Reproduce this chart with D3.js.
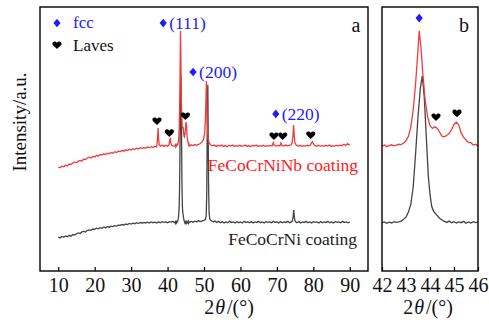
<!DOCTYPE html>
<html>
<head>
<meta charset="utf-8">
<script src="https://cdn.jsdelivr.net/npm/d3@7"></script>
<style>
  body { margin: 0; background: #fff; }
  svg text { font-family: "Liberation Serif", "Times New Roman", serif !important; }
</style>
</head>
<body>
<div id="chart"></div>
<script>
// FeCoCrNiNb coating pattern, [2theta, intensity a.u.]
var nbPattern = [
  [10,39.4],[10.5,39.1],[11,39.7],[11.5,39.5],[12,40.1],[12.5,39.8],[13,40.5],[13.5,40.3],[14,40.9],[14.5,41.3],
  [15,41.0],[15.5,41.6],[16,41.9],[16.5,41.6],[17,42.4],[17.5,42.2],[18,42.8],[18.5,43.1],[19,42.8],[19.5,43.4],
  [20,43.2],[20.5,43.8],[21,43.5],[21.5,44.1],[22,43.9],[22.5,44.4],[23,44.1],[23.5,44.6],[24,44.4],[24.5,44.9],
  [25,44.6],[25.5,45.2],[26,44.9],[26.5,45.4],[27,45.2],[27.5,45.7],[28,45.4],[28.5,45.9],[29,45.6],[29.5,46.1],
  [30,45.8],[30.5,46.3],[31,46.0],[31.5,46.5],[32,46.2],[32.5,46.7],[33,46.4],[33.5,46.8],[34,46.5],[34.5,47.0],
  [35,46.7],[35.5,47.1],[36,46.8],[36.5,47.2],[36.9,47.0],[37.1,47.7],[37.25,50.5],[37.4,54.2],[37.55,50.0],[37.7,47.8],
  [38,47.3],[38.5,47.7],[39,47.2],[39.5,47.6],[40,47.3],[40.4,47.8],[40.6,49.5],[40.75,50.4],[40.9,48.6],[41.1,47.6],
  [41.5,47.4],[42,47.3],[42.1,47.7],[42.2,47.1],[42.3,47.5],[42.4,47.8],[42.5,47.4],[42.6,47.7],[42.7,48.0],[42.8,47.9],
  [42.9,48.5],[43,49.3],[43.1,51.0],[43.2,54.5],[43.3,61.0],[43.4,71.0],[43.5,84.0],[43.55,91.0],[43.62,85.0],[43.7,75.0],
  [43.8,64.5],[43.9,58.5],[44,55.0],[44.1,54.0],[44.2,54.6],[44.3,54.1],[44.4,52.6],[44.5,51.1],[44.6,50.8],[44.7,51.4],
  [44.8,52.1],[44.9,53.6],[45,55.5],[45.1,56.4],[45.2,55.3],[45.3,52.2],[45.4,50.6],[45.5,49.6],[45.6,48.7],[45.7,48.6],
  [45.8,47.7],[45.9,48.0],[46,47.3],[46.5,47.8],[47,47.5],[47.5,47.9],[48,47.6],[48.5,48.0],[49,48.3],[49.5,48.9],
  [49.9,50.0],[50.2,52.5],[50.4,58.0],[50.55,66.0],[50.65,72.0],[50.75,65.0],[50.9,56.0],[51.1,50.5],[51.4,48.6],[51.8,47.8],
  [52.3,47.4],[52.8,47.7],[53.3,47.2],[53.8,47.6],[54.3,47.3],[54.8,47.7],[55.3,47.2],[55.8,47.5],[56.3,47.1],[56.8,47.6],
  [57.3,47.3],[57.8,47.7],[58.3,47.2],[58.8,47.5],[59.3,47.3],[59.8,47.6],[60.3,47.2],[60.8,47.4],[61.3,47.7],[61.8,47.2],
  [62.3,47.5],[62.8,47.1],[63.3,47.6],[63.8,47.3],[64.3,47.7],[64.8,47.2],[65.3,47.5],[65.8,47.3],[66.3,47.6],[66.8,47.2],
  [67.3,47.5],[67.8,47.3],[68.3,47.6],[68.7,47.4],[69,48.6],[69.3,47.6],[69.8,47.3],[70.3,47.6],[70.8,47.4],[71.1,48.5],
  [71.4,47.5],[71.9,47.3],[72.4,47.7],[72.9,47.4],[73.4,47.6],[73.9,47.8],[74.2,48.6],[74.4,51.0],[74.58,55.3],[74.75,51.5],
  [74.95,48.6],[75.3,47.7],[75.8,47.3],[76.3,47.6],[76.8,47.2],[77.3,47.5],[77.8,47.3],[78.3,47.6],[78.8,47.4],[79.2,47.7],
  [79.5,48.6],[79.75,49.0],[80,48.2],[80.4,47.5],[80.9,47.2],[81.4,47.6],[81.9,47.3],[82.4,47.5],[82.9,47.2],[83.4,47.6],
  [83.9,47.3],[84.4,47.7],[84.9,47.2],[85.4,47.5],[85.9,47.3],[86.4,47.6],[86.9,47.4],[87.4,47.7],[87.9,47.5],[88.4,48.0],
  [88.9,47.6],[89.4,48.2],[89.7,47.8],[90,48.1]
];

// FeCoCrNi coating pattern
var niPattern = [
  [10,12.9],[10.5,12.5],[11,13.1],[11.5,12.8],[12,13.3],[12.5,13.0],[13,13.5],[13.5,13.2],[14,13.8],[14.5,13.6],
  [15,14.1],[15.5,14.4],[16,14.2],[16.5,14.8],[17,15.0],[17.5,14.8],[18,15.4],[18.5,15.6],[19,15.4],[19.5,15.9],
  [20,15.8],[20.5,16.2],[21,16.0],[21.5,16.4],[22,16.2],[22.5,16.6],[23,16.4],[23.5,16.8],[24,16.6],[24.5,17.0],
  [25,16.8],[25.5,17.2],[26,17.0],[26.5,17.4],[27,17.3],[27.5,17.6],[28,17.4],[28.5,17.8],[29,17.6],[29.5,18.0],
  [30,17.8],[30.5,18.1],[31,17.9],[31.5,18.3],[32,18.0],[32.5,18.4],[33,18.1],[33.5,18.4],[34,18.2],[34.5,18.5],
  [35,18.2],[35.5,18.6],[36,18.3],[36.5,18.5],[37,18.2],[37.5,18.6],[38,18.3],[38.5,18.7],[39,18.4],[39.5,18.6],
  [40,18.3],[40.5,18.7],[41,18.5],[41.5,18.8],[42,18.3],[42.1,18.6],[42.2,18.1],[42.3,18.5],[42.4,18.2],[42.5,18.7],
  [42.6,18.4],[42.7,18.6],[42.8,18.9],[42.9,19.6],[43,20.4],[43.1,22.3],[43.2,25.2],[43.3,31.8],[43.4,44.5],[43.5,58.5],
  [43.6,69.5],[43.68,73.9],[43.76,66.0],[43.85,50.0],[43.93,36.0],[44,29.0],[44.07,24.5],[44.15,22.6],[44.28,21.2],[44.4,20.0],
  [44.5,19.3],[44.6,18.8],[44.7,18.4],[44.8,18.9],[44.9,18.3],[45,18.7],[45.1,18.2],[45.2,18.6],[45.3,18.3],[45.4,18.8],
  [45.5,18.1],[45.6,18.6],[45.7,18.2],[45.8,18.7],[45.9,18.3],[46,18.5],[46.5,18.8],[47,18.5],[47.5,18.9],[48,18.6],
  [48.5,19.0],[49,18.7],[49.5,19.0],[50,19.2],[50.4,19.6],[50.6,21.0],[50.75,29.0],[50.85,46.0],[50.95,65.0],[51.05,70.5],
  [51.15,52.0],[51.25,33.0],[51.4,22.0],[51.6,19.6],[52,19.0],[52.5,18.6],[53,18.9],[53.5,18.4],[54,18.8],[54.5,18.3],
  [55,18.7],[55.5,18.2],[56,18.6],[56.5,18.3],[57,18.8],[57.5,18.4],[58,18.6],[58.5,18.2],[59,18.7],[59.5,18.3],
  [60,18.6],[60.5,18.2],[61,18.8],[61.5,18.4],[62,18.6],[62.5,18.3],[63,18.7],[63.5,18.2],[64,18.6],[64.5,18.4],
  [65,18.8],[65.5,18.3],[66,18.6],[66.5,18.2],[67,18.7],[67.5,18.4],[68,18.6],[68.5,18.3],[69,18.8],[69.5,18.4],
  [70,18.6],[70.5,18.2],[71,18.7],[71.5,18.3],[72,18.6],[72.5,18.4],[73,18.8],[73.5,18.3],[74,18.6],[74.2,18.8],
  [74.45,20.5],[74.62,23.1],[74.8,20.2],[75,18.8],[75.5,18.3],[76,18.7],[76.5,18.2],[77,18.6],[77.5,18.4],[78,18.8],
  [78.5,18.3],[79,18.6],[79.5,18.2],[80,18.7],[80.5,18.4],[81,18.6],[81.5,18.2],[82,18.7],[82.5,18.3],[83,18.6],
  [83.5,18.4],[84,18.8],[84.5,18.3],[85,18.6],[85.5,18.2],[86,18.7],[86.5,18.4],[87,18.6],[87.5,18.3],[88,18.8],
  [88.5,18.4],[89,18.6],[89.5,18.3],[90,18.5]
];

var ticksA = [10, 20, 30, 40, 50, 60, 70, 80, 90];
var ticksB = [42, 43, 44, 45, 46];

// peak markers [2theta, intensity]
var fccMarksA = [[38.8, 93.9, "(111)"], [47.0, 75.4, "(200)"], [69.7, 59.5, "(220)"]];
var lavesMarksA = [[37.1, 56.8], [40.5, 52.3], [44.9, 58.7], [69.2, 51.1], [71.6, 51.1], [79.3, 51.5]];
var fccMarksB = [[43.55, 95.8]];
var lavesMarksB = [[44.25, 58.3], [45.125, 59.8]];

var width = 489, height = 322;
var redCol = "#f03c3c", greyCol = "#444444", blueCol = "#1c1cff";

var svg = d3.select("#chart").append("svg")
  .attr("width", width).attr("height", height);

var y = d3.scaleLinear().domain([0, 100]).range([271, 7]);
var xa = d3.scaleLinear().domain([5, 95]).range([40, 368]);
var xb = d3.scaleLinear().domain([42, 46]).range([382, 478]);

var heart = "M0,4 C-1,2.6 -4.6,0.6 -4.6,-1.5 C-4.6,-3.6 -1.8,-4.6 0,-2.2 C1.8,-4.6 4.6,-3.6 4.6,-1.5 C4.6,0.6 1,2.6 0,4 Z";
var diamond = "M0,-4.3 L3.6,0 L0,4.3 L-3.6,0 Z";

svg.append("clipPath").attr("id", "clipB")
  .append("rect").attr("x", 382).attr("y", 7).attr("width", 96).attr("height", 264);

function drawPanel(x, ticks, clip) {
  var g = svg.append("g");
  var plot = g.append("g");
  if (clip) plot.attr("clip-path", "url(#" + clip + ")");

  var line = d3.line()
    .x(function(d) { return x(d[0]); })
    .y(function(d) { return y(d[1]); });

  plot.append("path").datum(niPattern)
    .attr("d", line).attr("fill", "none")
    .attr("stroke", greyCol).attr("stroke-width", 1.3);
  plot.append("path").datum(nbPattern)
    .attr("d", line).attr("fill", "none")
    .attr("stroke", redCol).attr("stroke-width", 1.3);

  var axis = g.append("g")
    .attr("transform", "translate(0," + y(0) + ")")
    .call(d3.axisBottom(x).tickValues(ticks).tickSize(-4).tickPadding(7).tickFormat(d3.format("d")));
  axis.attr("font-family", null);
  axis.select(".domain").remove();
  axis.selectAll("line").attr("stroke", "#000").attr("stroke-width", 1.2);
  axis.selectAll("text").attr("font-size", "20px").attr("fill", "#111");

  g.append("rect")
    .attr("x", x.range()[0]).attr("y", y.range()[1])
    .attr("width", x.range()[1] - x.range()[0])
    .attr("height", y.range()[0] - y.range()[1])
    .attr("fill", "none").attr("stroke", "#000").attr("stroke-width", 1.4);
  return g;
}

var ga = drawPanel(xa, ticksA, null);
var gb = drawPanel(xb, ticksB, "clipB");

// markers
ga.selectAll(".fcc").data(fccMarksA).enter().append("path")
  .attr("d", diamond).attr("fill", blueCol)
  .attr("transform", function(d) { return "translate(" + xa(d[0]) + "," + y(d[1]) + ")"; });
ga.selectAll(".fcclab").data(fccMarksA).enter().append("text")
  .attr("x", function(d) { return xa(d[0]) + 6; })
  .attr("y", function(d) { return y(d[1]) + 6; })
  .attr("font-size", "17.5px").attr("fill", blueCol)
  .text(function(d) { return d[2]; });
ga.selectAll(".laves").data(lavesMarksA).enter().append("path")
  .attr("d", heart).attr("fill", "#000")
  .attr("transform", function(d) { return "translate(" + xa(d[0]) + "," + y(d[1]) + ")"; });

gb.selectAll(".fcc").data(fccMarksB).enter().append("path")
  .attr("d", diamond).attr("fill", blueCol)
  .attr("transform", function(d) { return "translate(" + xb(d[0]) + "," + y(d[1]) + ")"; });
gb.selectAll(".laves").data(lavesMarksB).enter().append("path")
  .attr("d", heart).attr("fill", "#000")
  .attr("transform", function(d) { return "translate(" + xb(d[0]) + "," + y(d[1]) + ")"; });

// legend
svg.append("path").attr("d", diamond).attr("fill", blueCol).attr("transform", "translate(57,23)");
svg.append("text").attr("x", 73).attr("y", 28).attr("font-size", "17px").attr("fill", blueCol).text("fcc");
svg.append("path").attr("d", heart).attr("fill", "#000").attr("transform", "translate(57,45)");
svg.append("text").attr("x", 73).attr("y", 51).attr("font-size", "17px").attr("fill", "#111").text("Laves");

// series labels
svg.append("text").attr("x", 358).attr("y", 171).attr("text-anchor", "end")
  .attr("font-size", "17.5px").attr("fill", "#ff1a1a").text("FeCoCrNiNb coating");
svg.append("text").attr("x", 357).attr("y", 245).attr("text-anchor", "end")
  .attr("font-size", "17.5px").attr("fill", "#222").text("FeCoCrNi coating");

// panel letters
svg.append("text").attr("x", 356).attr("y", 32).attr("text-anchor", "middle")
  .attr("font-size", "20px").attr("fill", "#111").text("a");
svg.append("text").attr("x", 464).attr("y", 32).attr("text-anchor", "middle")
  .attr("font-size", "20px").attr("fill", "#111").text("b");

// axis titles
function thetaTitle(cx) {
  var t = svg.append("text").attr("x", cx).attr("y", 314).attr("text-anchor", "middle")
    .attr("font-size", "20px").attr("fill", "#111");
  t.append("tspan").text("2");
  t.append("tspan").attr("font-style", "italic").attr("dx", 1).text("θ");
  t.append("tspan").attr("dx", 2).text("/(°)");
}
thetaTitle(229);
thetaTitle(428);

svg.append("text")
  .attr("transform", "translate(26,122) rotate(-90)")
  .attr("text-anchor", "middle").attr("font-size", "19px").attr("fill", "#111")
  .text("Intensity/a.u.");
</script>
</body>
</html>
